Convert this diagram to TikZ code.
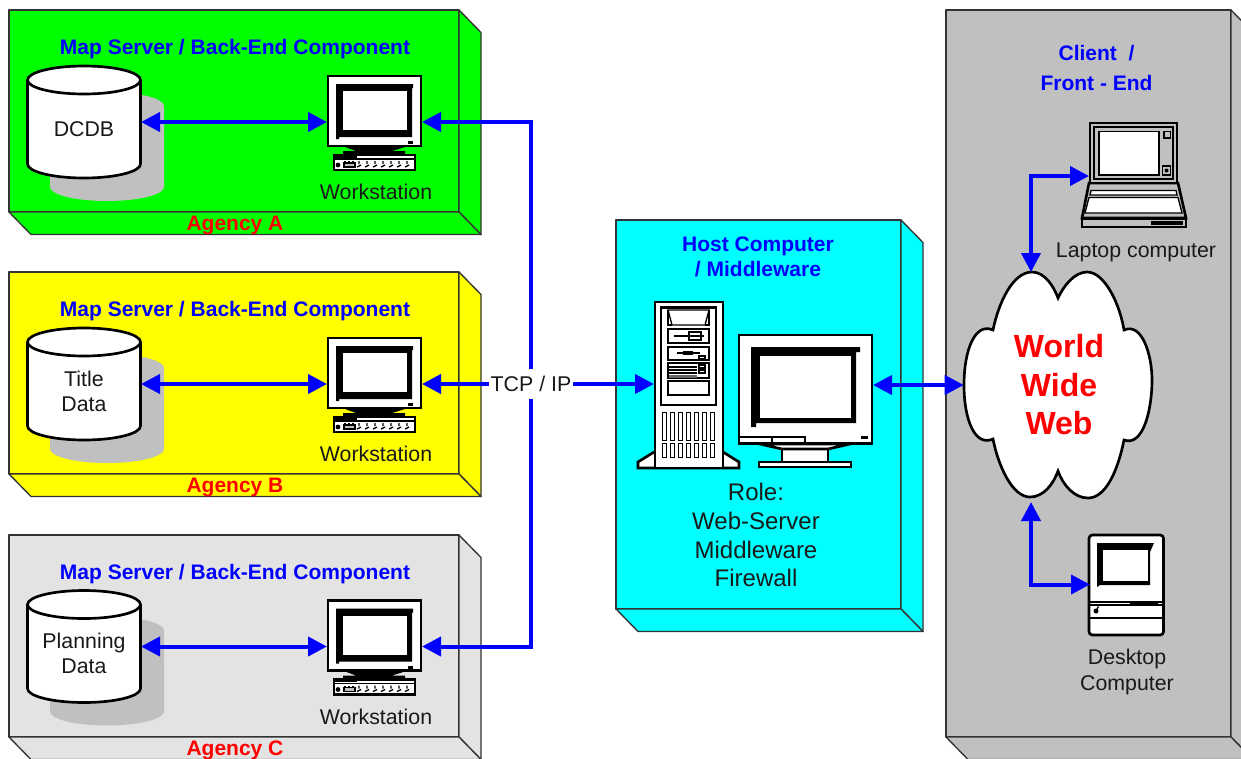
\documentclass[tikz,border=0pt]{standalone}
\usepackage{fontspec}
\setmainfont{Liberation Sans}
\usetikzlibrary{arrows.meta}
\definecolor{bluearr}{RGB}{0,0,255}
\definecolor{shadowgray}{RGB}{192,192,192}
\definecolor{edgegray}{RGB}{51,51,51}
\definecolor{panelgreen}{RGB}{0,255,0}
\definecolor{panelyellow}{RGB}{255,255,0}
\definecolor{panelcyan}{RGB}{0,255,255}
\definecolor{panellight}{RGB}{227,227,227}
\definecolor{textred}{RGB}{255,0,0}
\tikzset{
  boxedge/.style={draw=edgegray,line width=1pt,line join=round},
  ink/.style={draw=black,line width=2pt,line join=miter},
  thinink/.style={draw=black,line width=1pt},
  anchorbox/.style={inner sep=0pt,outer sep=0pt},
  both/.style={bluearr,line width=3pt,{Triangle[length=14.25pt,width=14.25pt]}-{Triangle[length=14.25pt,width=14.25pt]}},
  tostart/.style={bluearr,line width=3pt,{Triangle[length=14.25pt,width=14.25pt]}-},
  toend/.style={bluearr,line width=3pt,-{Triangle[length=14.25pt,width=14.25pt]}},
  label16/.style={inner sep=0pt,font=\fontsize{16}{19}\selectfont,align=center,text=black!90},
  head16/.style={inner sep=0pt,font=\fontsize{15.75}{19}\selectfont\bfseries,align=center,text=bluearr},
  agency/.style={inner sep=0pt,font=\fontsize{15.75}{19}\selectfont\bfseries,text=textred},
  role/.style={inner sep=0pt,font=\fontsize{18}{21.7}\selectfont,align=center,text=black!90},
  wwwtext/.style={inner sep=0pt,font=\fontsize{24}{28.9}\selectfont\bfseries,align=center,text=textred},
}
% #1 fill, #2 x0, #3 y0, #4 x1, #5 y1
\newcommand{\boxthreed}[5]{%
  \draw[boxedge,fill=#1] (#2,#3) rectangle (#4,#5);
  \draw[boxedge,fill=#1] (#4,#3) -- ++(22,22.5) -- (#4+22,#5+22.5) -- (#4,#5) -- cycle;
  \draw[boxedge,fill=#1] (#2,#5) -- ++(22,22.5) -- (#4+22,#5+22.5) -- (#4,#5) -- cycle;
}
% #1 name suffix, #2 y offset, #3 label y
\newcommand{\dbcyl}[3]{%
  \begin{scope}[shift={(0,#2)}]
    \fill[shadowgray] (50,106) arc[start angle=180,end angle=360,x radius=57,y radius=14] -- (164,187)
      arc[start angle=0,end angle=180,x radius=57,y radius=14] -- cycle;
    \draw[ink,fill=white] (27.5,80) arc[start angle=180,end angle=360,x radius=56.5,y radius=14] -- (140.5,164)
      arc[start angle=0,end angle=180,x radius=56.5,y radius=14] -- cycle;
    \draw[ink] (27.5,80) arc[start angle=180,end angle=0,x radius=56.5,y radius=14];
    \node[anchorbox,minimum width=85.5pt,minimum height=84pt] (db#1) at (84,122) {};
    \node[label16] (dbtext#1) at (84,#3) {\ifx#1A DCDB\else\ifx#1B Title\\Data\else Planning\\Data\fi\fi};
  \end{scope}
}
\newcommand{\wstation}[2]{%
  \begin{scope}[shift={(0,#2)}]
    \fill[black] (345,147) -- (405,147) -- (392,151) -- (405,151) -- (405,154) -- (343,154) -- (343,151) -- (356,151) -- cycle;
    \draw[ink,fill=white] (328,76) rectangle (421,146);
    \fill[black] (336,84) -- (413,84) -- (413,88) -- (412,88) -- (412,137) -- (339,137) -- (339,139) -- (336,139) -- cycle;
    \fill[white] (343,91) rectangle (407,130);
    \fill[black] (408,141) rectangle (413,144);
    \draw[ink,fill=white] (334,155) rectangle (415,170);
    \draw[thinink] (334,159) -- (415,159);
    \draw[thinink] (334,157) -- (357,157);
    \fill[black] (338,165) circle[radius=2.4];
    \draw[thinink,fill=shadowgray] (344,163) rectangle (355,167);
    \foreach \k in {0,...,6} {\draw[thinink] (359+8*\k,161) -- ++(0,3) (357+8*\k,167) -- ++(4,-2);}
    \foreach \k in {0,1,2} {\draw[thinink] (345+4*\k,161) -- ++(0,1);}
    \node[anchorbox,minimum width=71.25pt,minimum height=71.25pt] (ws#1) at (374.5,122) {};
    \node[label16] (wstext#1) at (376,192) {Workstation};
  \end{scope}
}
\begin{document}
\begin{tikzpicture}[x=.75pt,y=-.75pt]
\useasboundingbox (0,0) rectangle (1241,758);
\clip (0,0) rectangle (1241,758);
\fill[white] (0,0) rectangle (1241,758);

% panels
\boxthreed{panelgreen}{9}{10}{459}{212}
\boxthreed{panelyellow}{9}{272}{459}{474}
\boxthreed{panellight}{9}{535}{459}{737}
\boxthreed{panelcyan}{616}{220}{901}{609}
\boxthreed{shadowgray}{946}{10}{1231}{737}

% panel captions
\node[head16] (capA) at (235,49.5) {Map Server / Back-End Component};
\node[head16] (capB) at (235,311.5) {Map Server / Back-End Component};
\node[head16] (capC) at (235,574.5) {Map Server / Back-End Component};
\node[agency] (agA) at (235,225) {Agency A};
\node[agency] (agB) at (235,487) {Agency B};
\node[agency] (agC) at (235,750) {Agency C};

% databases and workstations
\dbcyl{A}{0}{129}
\dbcyl{B}{262}{129.5}
\dbcyl{C}{524.5}{129}
\wstation{A}{0}
\wstation{B}{262}
\wstation{C}{524.5}

% tower server
\fill[white] (654,452) -- (638,462) -- (638,468) -- (740,468) -- (740,462) -- (723,452) -- cycle;
\draw[ink] (654,452) -- (638,462) -- (638,468) -- (739,468) -- (739,462) -- (723,452);
\draw[ink,fill=white] (655,302) rectangle (723,468);
\draw[ink] (661,307.5) rectangle (716,405);
\draw[thinink] (668,310) -- (709,310) -- (705,325) -- (672,325) -- cycle;
\draw[thinink] (668,310) -- (668,325) -- (672,325) (709,310) -- (709,325) -- (705,325);
\draw[thinink] (668,329) rectangle (709,343);
\draw[line width=1.5pt] (674,336) -- (704,336);
\draw[thinink] (689,332) rectangle (701,340);
\draw[thinink] (668,347) rectangle (709,360);
\draw[line width=1.5pt] (677,353) -- (700,353);
\fill[black] (683,351) rectangle (693,355);
\draw[thinink] (699,356) rectangle (705,359);
\draw[thinink] (668,363) rectangle (709,378);
\foreach \yy in {367,370,373} {\draw[thinink] (669,\yy) -- (697,\yy);}
\fill[black!60] (669,375) rectangle (697,377.5);
\draw[thinink] (699,365) rectangle (705,368);
\draw[thinink] (699,370) rectangle (705,373);
\draw[thinink] (668,381) rectangle (709,395);
\foreach \k in {0,...,6} {
  \draw[thinink] (662.5+8*\k,412.5) rectangle ++(4,28);
  \draw[thinink] (662.5+8*\k,443.5) rectangle ++(4,14);
}
\node[anchorbox,minimum width=51pt,minimum height=125.25pt] (srv) at (688,384) {};

% big monitor
\draw[ink,fill=white] (759,467) rectangle (851,462);
\draw[ink,fill=white] (782,449) rectangle (828,462);
\draw[ink,fill=white] (760,444) -- (782,449) -- (828,449) -- (850,444) -- cycle;
\draw[ink,fill=white] (739,335) rectangle (872,443.5);
\fill[black] (751,347) -- (860,347) -- (860,352) -- (856,352) -- (856,423) -- (756,423) -- (756,427) -- (751,427) -- cycle;
\fill[white] (760,356) rectangle (851,418);
\draw[thinink] (739,437) -- (805,437) -- (805,443);
\draw[thinink] (772,437) -- (772,443);
\fill[black] (861,436) rectangle (868,439);
\node[anchorbox,minimum width=101.25pt,minimum height=125.25pt] (mon) at (805.5,385) {};

% cloud
\draw[ink,fill=white] (1032,272) .. controls (1045,272) and (1054,287) .. (1058,298)
  .. controls (1063,287) and (1074,272) .. (1087,272)
  .. controls (1105,272) and (1120,305) .. (1124,330)
  .. controls (1142,322) and (1152,355) .. (1152,380)
  .. controls (1152,410) and (1143,447) .. (1124,440)
  .. controls (1118,470) and (1106,498) .. (1088,498)
  .. controls (1074,498) and (1063,485) .. (1058,471)
  .. controls (1053,485) and (1043,497) .. (1030,497)
  .. controls (1012,497) and (998,465) .. (993,439)
  .. controls (975,447) and (964,420) .. (964,385)
  .. controls (964,350) and (975,322) .. (993,330)
  .. controls (998,305) and (1012,272) .. (1032,272) -- cycle;
\node[wwwtext,minimum width=142.5pt,minimum height=169.5pt] (www) at (1059,385) {World\\Wide\\Web};
\coordinate (wwwN) at (1031,272);
\coordinate (wwwS) at (1031,502);

% laptop
\draw[ink,fill=shadowgray] (1089,183) -- (1178,183) -- (1186,218) -- (1082,218) -- cycle;
\draw[thinink,fill=white] (1091,190.5) -- (1176,190.5) -- (1177,195) -- (1090,195) -- cycle;
\draw[thinink,fill=white] (1089,197.5) -- (1178,197.5) -- (1182,213) -- (1085,213) -- cycle;
\draw[ink,fill=shadowgray] (1082,218.5) rectangle (1186,227);
\fill[black] (1151,221) rectangle (1183,225);
\draw[ink,fill=shadowgray] (1090,123) rectangle (1177,183);
\draw[thinink] (1094,127) rectangle (1173,179);
\draw[thinink,fill=white] (1099,131.5) rectangle (1159,175);
\draw[thinink] (1164,131.5) rectangle (1170.5,138);
\draw[thinink] (1162.5,166) rectangle (1170.5,175);
\fill[black] (1166.5,170.5) circle[radius=2];
\node[anchorbox,minimum width=66.75pt,minimum height=78.75pt] (lap) at (1133.5,176) {};

% desktop
\draw[ink,fill=white,rounded corners=2.5pt] (1089,535) -- (1163.5,535) -- (1163.5,635) -- (1089,635) -- cycle;
\fill[black] (1097,543) -- (1154,543) -- (1150,552) -- (1150,585) -- (1100,585) -- (1097,587) -- cycle;
\fill[white] (1103,550) rectangle (1148,581);
\draw[thinink] (1089,602) -- (1163.5,602) (1089,605) -- (1163.5,605);
\fill[black] (1130,601.5) rectangle (1158,605.5);
\fill[black] (1096,611) circle[radius=2.5];
\draw[thinink] (1097,609) -- (1098.5,606.5);
\draw[ink] (1089,618) -- (1163.5,618);
\node[anchorbox,minimum width=55.5pt,minimum height=75.75pt] (dsk) at (1127,584.5) {};

% text labels
\node[inner sep=0pt,fill=white,minimum width=63pt,minimum height=22pt,font=\fontsize{16}{19}\selectfont,text=black!90] (tcp) at (531,384) {TCP / IP};
\node[head16,font=\fontsize{15.75}{18.75pt}\selectfont\bfseries] (caphost) at (758,256.5) {Host Computer\\/ Middleware};
\node[head16,font=\fontsize{15.75}{22.5pt}\selectfont\bfseries] (capclient) at (1096.5,68) {Client\ \ /\\Front - End};
\node[role] (roletext) at (756,535) {Role:\\Web-Server\\Middleware\\Firewall};
\node[label16] (laptext) at (1136,252.5) {Laptop computer};
\node[label16,font=\fontsize{16}{19.5pt}\selectfont] (dsktext) at (1127,672) {Desktop\\Computer};

% connectors
\draw[both] (dbA.east) -- (wsA.west);
\draw[both] (dbB.east) -- (wsB.west);
\draw[both] (dbC.east) -- (wsC.west);
\draw[tostart] (wsA.east) -| (tcp.north);
\draw[tostart] (wsC.east) -| (tcp.south);
\draw[tostart] (wsB.east) -- (tcp.west);
\draw[toend] (tcp.east) -- (srv.west);
\draw[both] (mon.east) -- (www.west);
\draw[both] (wwwN) |- (lap.west);
\draw[both] (wwwS) |- (dsk.west);
\end{tikzpicture}
\end{document}
